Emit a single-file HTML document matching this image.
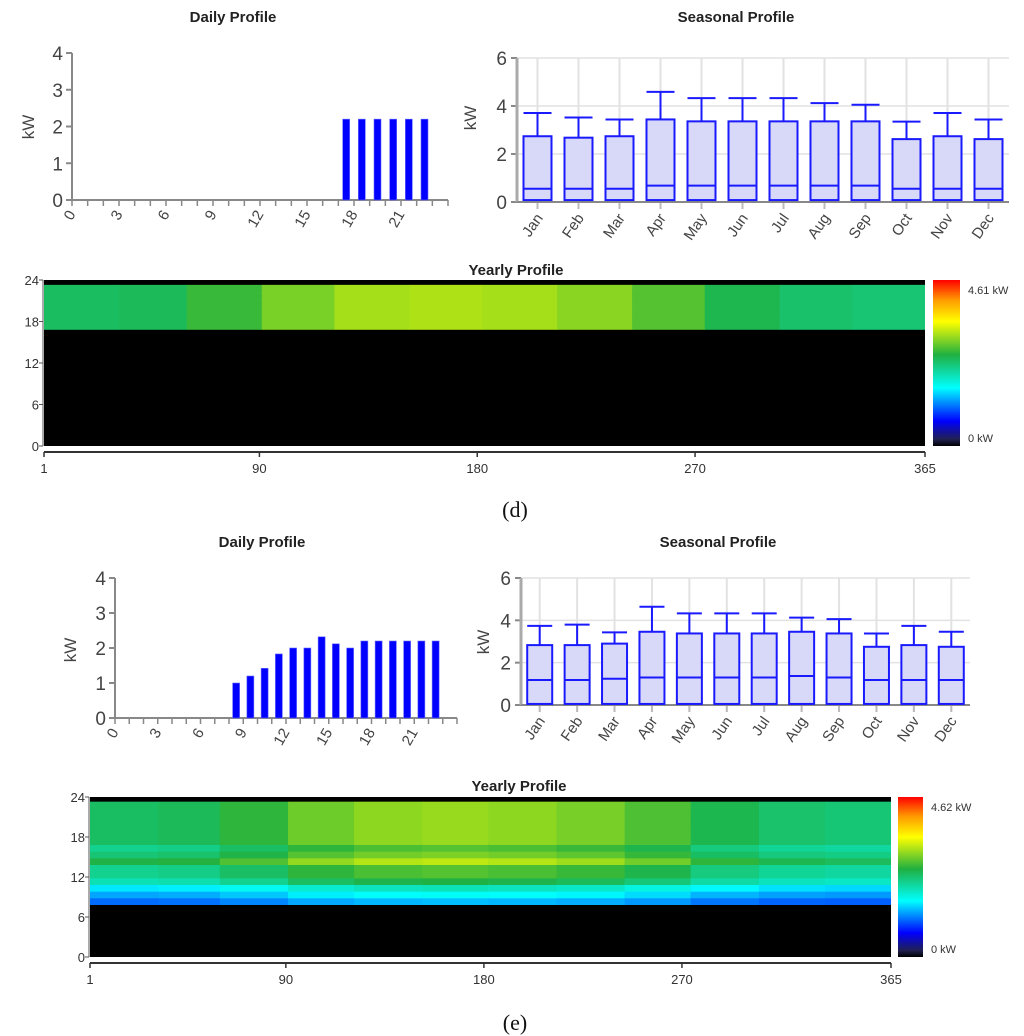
<!DOCTYPE html>
<html><head><meta charset="utf-8"><style>
html,body{margin:0;padding:0;background:#fff;}
svg{display:block;font-family:"Liberation Sans",sans-serif;}
</style></head><body>
<svg id="fig" width="1024" height="1036" viewBox="0 0 1024 1036" xmlns="http://www.w3.org/2000/svg">
<defs>
<linearGradient id="cbar" x1="0" y1="1" x2="0" y2="0">
<stop offset="0" stop-color="#000000"/><stop offset="0.04" stop-color="#202050"/><stop offset="0.15" stop-color="#0000ff"/><stop offset="0.35" stop-color="#00ffff"/><stop offset="0.55" stop-color="#20b040"/><stop offset="0.75" stop-color="#ffff00"/><stop offset="0.88" stop-color="#ff9900"/><stop offset="1" stop-color="#ff0000"/>
</linearGradient>
</defs>
</svg>
<script>
// ---- data ----
const hours = [0,1,2,3,4,5,6,7,8,9,10,11,12,13,14,15,16,17,18,19,20,21,22,23];
const hourTickLabels = ["0","3","6","9","12","15","18","21"];
const dailyD = [0,0,0,0,0,0,0,0,0,0,0,0,0,0,0,0,0,2.2,2.2,2.2,2.2,2.2,2.2,0];
const dailyE = [0,0,0,0,0,0,0,0,1.0,1.2,1.42,1.83,2.0,2.0,2.32,2.12,2.0,2.2,2.2,2.2,2.2,2.2,2.2,0];
const months = ["Jan","Feb","Mar","Apr","May","Jun","Jul","Aug","Sep","Oct","Nov","Dec"];
const seasQ3D = [2.74,2.68,2.74,3.44,3.36,3.36,3.36,3.36,3.36,2.62,2.74,2.62];
const seasMedD = [0.55,0.55,0.55,0.68,0.68,0.68,0.68,0.68,0.68,0.55,0.55,0.55];
const seasMaxD = [3.71,3.52,3.44,4.59,4.33,4.33,4.33,4.12,4.05,3.35,3.71,3.44];
const seasMinD = [0.08,0.08,0.08,0.08,0.08,0.08,0.08,0.08,0.08,0.08,0.08,0.08];
const seasQ3E = [2.83,2.83,2.9,3.46,3.38,3.38,3.38,3.46,3.38,2.75,2.83,2.75];
const seasMedE = [1.18,1.18,1.24,1.3,1.3,1.3,1.3,1.37,1.3,1.18,1.18,1.18];
const seasMaxE = [3.74,3.8,3.43,4.64,4.33,4.33,4.33,4.13,4.06,3.38,3.74,3.46];
const seasMinE = [0.05,0.05,0.05,0.05,0.05,0.05,0.05,0.05,0.05,0.05,0.05,0.05];
const monthStartDays = [1,32,60,91,121,152,182,213,244,274,305,335,365];
const monthFactorD = [1.08,1.1,1.2,1.32,1.4,1.42,1.4,1.35,1.25,1.12,1.06,1.04];
const monthFactorE = [1.08,1.1,1.18,1.3,1.36,1.38,1.36,1.32,1.24,1.12,1.06,1.04];
const dayTicks = [1,90,180,270,365];
const hourAxisTicks = [0,6,12,18,24];
const heatMaxD = 4.61, heatMaxE = 4.62;

const NS = "http://www.w3.org/2000/svg";
const svg = document.getElementById('fig');
function el(tag, attrs, parent){const e=document.createElementNS(NS,tag);for(const k in attrs)e.setAttribute(k,attrs[k]);(parent||svg).appendChild(e);return e;}
function txt(s, attrs, parent){const e=el('text',attrs,parent);e.textContent=s;return e;}
function lin(a,b,c,d){return v=>c+(v-a)/(b-a)*(d-c);}

function dailyChart(cfg){
  const g=el('g',{});
  
  
  const x=lin(0,24,cfg.x0,cfg.x1), y=lin(0,4,cfg.y0,cfg.y1);
  const t=txt('Daily Profile',{x:cfg.tx,y:cfg.ty,'text-anchor':'middle','font-size':15,'font-weight':'bold',fill:'#222'},g);
  
  
  const yl=txt('kW',{x:cfg.kx,y:cfg.ky,'text-anchor':'middle','font-size':17,fill:'#444',transform:`rotate(-90 ${cfg.kx} ${cfg.ky})`},g);
  
  
  for(let v=0;v<=4;v++){
    el('line',{x1:cfg.x0-6,x2:cfg.x0,y1:y(v),y2:y(v),stroke:'#888','stroke-width':2},g);
    const l=txt(String(v),{x:cfg.x0-9,y:y(v)+7,'text-anchor':'end','font-size':19,fill:'#444'},g);
    
    
  }
  el('line',{x1:cfg.x0,x2:cfg.x0,y1:y(4),y2:y(0),stroke:'#888','stroke-width':2},g);
  el('line',{x1:cfg.x0,x2:cfg.x1,y1:y(0),y2:y(0),stroke:'#888','stroke-width':2},g);
  for(let h=0;h<=24;h++) el('line',{x1:x(h),x2:x(h),y1:y(0),y2:y(0)+6,stroke:'#888','stroke-width':1.5},g);
  hourTickLabels.forEach(s=>{
    const hx=x(+s)+4, hy=cfg.y0+14;
    const l=txt(s,{x:hx,y:hy,'text-anchor':'end','font-size':15,fill:'#444',transform:`rotate(-60 ${hx} ${hy})`},g);
    
    
  });
  cfg.data.forEach((v,i)=>{
    if(v<=0) return;
    const b=el('rect',{x:x(hours[i]+0.5)-3.5,y:y(v),width:7,height:y(0)-y(v),fill:'#0000ff',stroke:'#6a6aff','stroke-width':0.6},g);
    
    
  });
}

function seasonalChart(cfg){
  const g=el('g',{});
  
  
  const n=months.length, step=(cfg.x1-cfg.x0)/n;
  const cx=i=>cfg.x0+step*(i+0.5), y=lin(0,6,cfg.y0,cfg.y1);
  const t=txt('Seasonal Profile',{x:cfg.tx,y:cfg.ty,'text-anchor':'middle','font-size':15,'font-weight':'bold',fill:'#222'},g);
  
  
  const yl=txt('kW',{x:cfg.kx,y:cfg.ky,'text-anchor':'middle','font-size':17,fill:'#444',transform:`rotate(-90 ${cfg.kx} ${cfg.ky})`},g);
  
  
  [2,4,6].forEach(v=>el('line',{x1:cfg.x0,x2:cfg.x1,y1:y(v),y2:y(v),stroke:'#e2e2e2','stroke-width':1.5},g));
  months.forEach((m,i)=>el('line',{x1:cx(i),x2:cx(i),y1:y(6),y2:y(0)+7,stroke:'#e2e2e2','stroke-width':2},g));
  months.forEach((m,i)=>el('line',{x1:cx(i),x2:cx(i),y1:y(0),y2:y(0)+7,stroke:'#bbb','stroke-width':2},g));
  for(let v=0;v<=6;v+=2){
    el('line',{x1:cfg.x0-6,x2:cfg.x0,y1:y(v),y2:y(v),stroke:'#888','stroke-width':2},g);
    const l=txt(String(v),{x:cfg.x0-10,y:y(v)+7,'text-anchor':'end','font-size':19,fill:'#444'},g);
    
    
  }
  el('line',{x1:cfg.x0,x2:cfg.x0,y1:y(6),y2:y(0),stroke:'#aaa','stroke-width':3},g);
  el('line',{x1:cfg.x0,x2:cfg.x1,y1:y(0),y2:y(0),stroke:'#888','stroke-width':2},g);
  months.forEach((m,i)=>{
    const c=cx(i), w=cfg.bw;
    const bg=el('g',{},g);
    
    
    el('line',{x1:c,x2:c,y1:y(cfg.max[i]),y2:y(cfg.q3[i]),stroke:'#1a1aff','stroke-width':2},bg);
    el('line',{x1:c-w/2,x2:c+w/2,y1:y(cfg.max[i]),y2:y(cfg.max[i]),stroke:'#1a1aff','stroke-width':2},bg);
    el('rect',{x:c-w/2,y:y(cfg.q3[i]),width:w,height:y(cfg.min[i])-y(cfg.q3[i]),fill:'#d8d8f8',stroke:'#1a1aff','stroke-width':2},bg);
    el('line',{x1:c-w/2,x2:c+w/2,y1:y(cfg.med[i]),y2:y(cfg.med[i]),stroke:'#1a1aff','stroke-width':2},bg);
    const lx=c+6, ly=cfg.y0+16;
    const l=txt(m,{x:lx,y:ly,'text-anchor':'end','font-size':15,fill:'#444',transform:`rotate(-55 ${lx} ${ly})`},g);
    
    
  });
}

const stops=[[0,[0,0,0]],[0.04,[32,32,80]],[0.15,[0,0,255]],[0.35,[0,255,255]],[0.55,[32,176,64]],[0.75,[255,255,0]],[0.88,[255,153,0]],[1,[255,0,0]]];
function cmap(v){v=Math.max(0,Math.min(1,v));for(let i=1;i<stops.length;i++){if(v<=stops[i][0]){const a=stops[i-1],b=stops[i],t=(v-a[0])/(b[0]-a[0]);const c=a[1].map((q,k)=>Math.round(q+(b[1][k]-q)*t));return `rgb(${c[0]},${c[1]},${c[2]})`;}}return 'rgb(255,0,0)';}

function heatmap(cfg){
  const g=el('g',{});
  
  
  const x=lin(1,365,cfg.x0,cfg.x1), y=lin(0,24,cfg.y0,cfg.y1);
  const t=txt('Yearly Profile',{x:cfg.tx,y:cfg.ty,'text-anchor':'middle','font-size':15,'font-weight':'bold',fill:'#222'},g);
  
  
  el('rect',{x:cfg.x0,y:y(24),width:cfg.x1-cfg.x0,height:y(0)-y(24),fill:'#000'},g);
  months.forEach((m,mi)=>{
    const xa=x(monthStartDays[mi]), xb=x(monthStartDays[mi+1]);
    hours.forEach((h,hi)=>{
      const kw=cfg.daily[hi]*cfg.factor[mi];
      if(kw<=0) return;
      const c=el('rect',{x:xa,y:y(h+1.3),width:xb-xa+(mi<11?0.5:0),height:y(h)-y(h+1.5),fill:cmap(kw/cfg.max)},g);
      
      
    });
  });
  el('rect',{x:cfg.x0,y:y(24),width:cfg.x1-cfg.x0,height:3,fill:'#000'},g);
  el('line',{x1:cfg.x0-1,x2:cfg.x0-1,y1:y(24),y2:y(0),stroke:'#555','stroke-width':1},g);
  hourAxisTicks.forEach(v=>{
    el('line',{x1:cfg.x0-5,x2:cfg.x0-1,y1:y(v),y2:y(v),stroke:'#555'},g);
    const l=txt(String(v),{x:cfg.x0-5,y:y(v)+5,'text-anchor':'end','font-size':13,fill:'#333'},g);
    
    
  });
  el('line',{x1:cfg.x0,x2:cfg.x1,y1:cfg.axy,y2:cfg.axy,stroke:'#333','stroke-width':2},g);
  dayTicks.forEach(d=>{
    el('line',{x1:x(d),x2:x(d),y1:cfg.axy,y2:cfg.axy+5,stroke:'#333','stroke-width':1.5},g);
    const l=txt(String(d),{x:x(d),y:cfg.axy+21,'text-anchor':'middle','font-size':13,fill:'#333'},g);
    
    
  });
  const cb=el('rect',{x:cfg.cbx,y:y(24),width:cfg.cbw,height:y(0)-y(24),fill:'url(#cbar)'},g);
  
  
  const a=txt(cfg.max+' kW',{x:cfg.cbx+cfg.cbw+8,y:y(24)+14,'font-size':11,fill:'#333'},g);
  
  
  const b=txt('0 kW',{x:cfg.cbx+cfg.cbw+8,y:y(0)-4,'font-size':11,fill:'#333'},g);
  
  
  const p=txt(cfg.label,{x:515,y:cfg.py,'text-anchor':'middle','font-size':22,'font-family':'Liberation Serif, serif',fill:'#111'},g);
  
  
}

dailyChart({name:'daily-profile-d',x0:72,x1:448,y0:200,y1:53,tx:233,ty:22,kx:34,ky:127,data:dailyD});
seasonalChart({name:'seasonal-profile-d',x0:517,x1:1009,y0:202,y1:58,tx:736,ty:22,kx:476,ky:118,bw:28,q3:seasQ3D,med:seasMedD,max:seasMaxD,min:seasMinD});
heatmap({name:'yearly-profile-d',x0:44,x1:925,y0:446,y1:280,tx:516,ty:275,axy:452,cbx:933,cbw:27,max:heatMaxD,daily:dailyD,factor:monthFactorD,label:'(d)',py:517});

dailyChart({name:'daily-profile-e',x0:115,x1:457,y0:718,y1:578,tx:262,ty:547,kx:76,ky:650,data:dailyE});
seasonalChart({name:'seasonal-profile-e',x0:521,x1:970,y0:705,y1:578,tx:718,ty:547,kx:489,ky:642,bw:25,q3:seasQ3E,med:seasMedE,max:seasMaxE,min:seasMinE});
heatmap({name:'yearly-profile-e',x0:90,x1:891,y0:957,y1:797,tx:519,ty:791,axy:963,cbx:898,cbw:25,max:heatMaxE,daily:dailyE,factor:monthFactorE,label:'(e)',py:1030});
</script>
</body></html>
